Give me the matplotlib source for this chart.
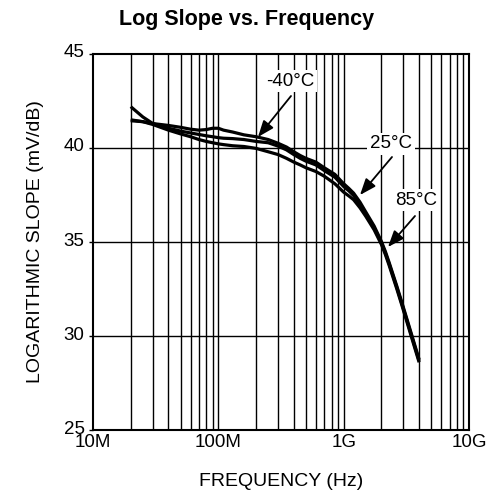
import numpy as np
import matplotlib
matplotlib.use("Agg")
import matplotlib.pyplot as plt
from matplotlib.ticker import NullFormatter, NullLocator
import matplotlib.transforms as mtransforms

plt.rcParams['font.family'] = ['Liberation Sans', 'DejaVu Sans']

# Data (Hz, mV/dB)
freq = [20e6, 25e6, 30e6, 40e6, 50e6, 60e6, 70e6, 80e6, 90e6, 100e6, 110e6, 130e6,
        160e6, 200e6, 250e6, 300e6, 350e6, 400e6, 450e6, 500e6, 600e6, 700e6, 850e6,
        1e9, 1.1e9, 1.2e9, 1.35e9, 1.5e9, 1.75e9, 2e9, 2.15e9, 2.3e9, 2.65e9, 2.9e9,
        3.2e9, 3.5e9, 4e9]
slope_m40 = [41.5, 41.4, 41.3, 41.2, 41.1, 41.0, 40.95, 40.98, 41.05, 41.05, 40.95, 40.85,
             40.7, 40.6, 40.45, 40.25, 40.05, 39.8, 39.6, 39.45, 39.25, 38.95, 38.6,
             38.1, 37.85, 37.6, 37.12, 36.6, 35.85, 35.03, 34.5, 33.93, 32.67, 31.83,
             30.89, 30.03, 28.75]
slope_25 = [42.2, 41.65, 41.3, 41.05, 40.9, 40.8, 40.72, 40.65, 40.6, 40.55, 40.52, 40.5,
            40.45, 40.35, 40.28, 40.1, 39.9, 39.65, 39.45, 39.3, 39.1, 38.8, 38.45,
            37.95, 37.72, 37.47, 37.0, 36.5, 35.75, 34.95, 34.42, 33.86, 32.6, 31.76,
            30.82, 29.96, 28.68]
slope_85 = [41.45, 41.4, 41.25, 40.95, 40.75, 40.6, 40.45, 40.35, 40.28, 40.22, 40.18, 40.12,
            40.08, 39.98, 39.8, 39.65, 39.45, 39.25, 39.1, 38.95, 38.75, 38.5, 38.1,
            37.65, 37.45, 37.25, 36.82, 36.37, 35.65, 34.87, 34.34, 33.78, 32.52, 31.68,
            30.74, 29.88, 28.6]

xticks = [1e7, 1e8, 1e9, 1e10]
xticklabels = ['10M', '100M', '1G', '10G']
yticks = [25, 30, 35, 40, 45]

fig = plt.figure(figsize=(4.94, 4.94), dpi=100)
ax = fig.add_axes([93/494, 1-430/494, 376/494, 376/494])

for s in (slope_m40, slope_25, slope_85):
    ax.plot(freq, s, color='black', lw=2.3, solid_capstyle='butt',
            solid_joinstyle='round', zorder=3)

ax.set_xscale('log')
ax.set_xlim(1e7, 1e10)
ax.set_ylim(25, 45)

# grid
minor = [m * 10**e for e in (7, 8, 9) for m in range(2, 10)]
for xv in minor + xticks[1:3]:
    ax.axvline(xv, color='black', lw=1.0, zorder=1)
for yv in (30, 35, 40):
    ax.axhline(yv, color='black', lw=1.0, zorder=1)

ax.set_xticks(xticks)
ax.set_xticklabels(xticklabels)
ax.xaxis.set_minor_locator(NullLocator())
ax.xaxis.set_minor_formatter(NullFormatter())
ax.set_yticks(yticks)
ax.tick_params(axis='x', length=0, pad=3, labelsize=13.5)
ax.tick_params(axis='y', length=3, width=1, pad=3, labelsize=13.5)
for lab in ax.get_yticklabels():
    lab.set_transform(lab.get_transform() + mtransforms.ScaledTranslation(0, 3/100, fig.dpi_scale_trans))

for sp in ax.spines.values():
    sp.set_linewidth(1.5)

ax.set_xlabel('FREQUENCY (Hz)', fontsize=14, labelpad=16)
ax.set_ylabel('LOGARITHMIC SLOPE (mV/dB)', fontsize=14, labelpad=14)
fig.text(0.5, 1-20/494, 'Log Slope vs. Frequency', ha='center', va='center',
         fontsize=15.5, fontweight='bold')

bbox = dict(boxstyle='square,pad=0.15', fc='white', ec='none')
arrow = dict(arrowstyle='-|>,head_length=0.9,head_width=0.35', color='black', lw=1.3,
             shrinkA=0, shrinkB=0, mutation_scale=11)

def pix(x, y):
    return (x/494, 1 - y/494)

labels = [('-40°C', (290, 81), (258, 137), (291, 96)),
          ('25°C', (391, 144), (360, 195), (392, 157)),
          ('85°C', (416, 200), (388, 247), (415, 216))]
for txt, tpos, tip, start in labels:
    ax.text(*pix(*tpos), txt, transform=fig.transFigure, ha='center', va='center',
            fontsize=13.5, bbox=bbox, zorder=5)
    ax.annotate('', xy=pix(*tip), xycoords='figure fraction',
                xytext=pix(*start), textcoords='figure fraction',
                arrowprops=arrow, zorder=6)

fig.savefig('out.png', dpi=100)
